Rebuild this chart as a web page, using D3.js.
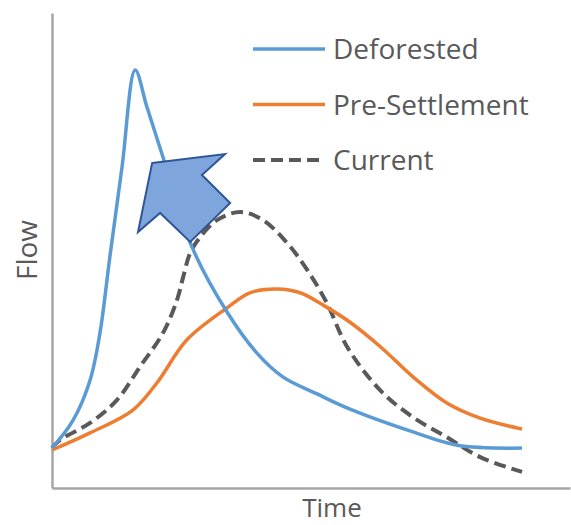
<!DOCTYPE html>
<html>
<head>
<meta charset="utf-8">
<script src="https://cdn.jsdelivr.net/npm/d3@7"></script>
<style>
  html, body { margin: 0; padding: 0; background: #ffffff; }
  svg { display: block; }
  text { font-family: "Open Sans", "Noto Sans", sans-serif; fill: #595959; }
</style>
</head>
<body>
<script>
// ---- data (time units 0..100, flow units 0..100) ----
const deforestedTime = [0, 4.5, 8.1, 10.2, 12.3, 14.9, 17.7, 20.2, 23.6, 29.8, 37.2, 43.6, 49.1, 56.4, 63.4, 76.8, 86.2, 100];
const deforestedFlow = [8.4, 14.3, 22.7, 32.6, 48.6, 67.6, 88, 80.2, 69.7, 50.7, 37.1, 28.4, 23.4, 19.8, 16.6, 11.8, 9.0, 8.4];

const preSettlementTime = [0, 8.1, 17.2, 22.3, 28.7, 37.2, 42.1, 47.9, 52.8, 57.7, 63.4, 69.8, 76.8, 84, 91.1, 100];
const preSettlementFlow = [8, 11.6, 16.4, 22.1, 31.2, 37.9, 41.1, 41.9, 41.1, 38.5, 34.9, 29.8, 23.4, 17.9, 14.7, 12.4];

const currentTime = [0, 1.7, 8.1, 13.8, 18.7, 23.6, 26.6, 27.9, 29.4, 31.5, 35.1, 40, 44.9, 50, 54.3, 58.5, 62.8, 69.8, 76.8, 84, 91.1, 100];
const currentFlow = [8.4, 10.1, 13.7, 18.5, 25.5, 32.6, 39.6, 44.4, 49.5, 52.8, 56.4, 58.1, 56.4, 51.6, 45.9, 38.9, 29.7, 20.6, 14.9, 10.7, 6.5, 3.4];

const seriesNames = ["Deforested", "Pre-Settlement", "Current"];
const seriesColors = ["#5B9BD5", "#ED7D31", "#595959"];
const seriesDash = [null, null, "12,6"];

// block arrow annotation (in data units)
const arrowTime = [21.3, 36.8, 31.9, 37.9, 29.4, 23.0, 18.3];
const arrowFlow = [68.4, 70.3, 65.9, 60.0, 51.8, 57.9, 53.9];

const axisTitleX = "Time";
const axisTitleY = "Flow";

// ---- layout ----
const W = 571, H = 525;
const svg = d3.select("body").append("svg").attr("width", W).attr("height", H);

const x = d3.scaleLinear().domain([0, 110.2]).range([52, 570]);
const y = d3.scaleLinear().domain([0, 100]).range([488, 13]);

// axes (no ticks)
const gx = svg.append("g").attr("transform", `translate(0,${y(0)})`)
  .call(d3.axisBottom(x).tickValues([]).tickSizeOuter(0));
const gy = svg.append("g").attr("transform", `translate(${x(0)},0)`)
  .call(d3.axisLeft(y).tickValues([]).tickSizeOuter(0));
[gx, gy].forEach(g => g.select(".domain").attr("stroke", "#A6A6A6").attr("stroke-width", 2.5));

// series
const series = [
  deforestedTime.map((t, i) => [t, deforestedFlow[i]]),
  preSettlementTime.map((t, i) => [t, preSettlementFlow[i]]),
  currentTime.map((t, i) => [t, currentFlow[i]])
];
const line = d3.line().x(d => x(d[0])).y(d => y(d[1])).curve(d3.curveCatmullRom.alpha(0.5));

// draw order: current (dashed), pre-settlement, deforested
[2, 1, 0].forEach(i => {
  svg.append("path")
    .attr("d", line(series[i]))
    .attr("fill", "none")
    .attr("stroke", seriesColors[i])
    .attr("stroke-width", i === 2 ? 4 : 3.5)
    .attr("stroke-linejoin", "round")
    .attr("stroke-dasharray", seriesDash[i]);
});

// arrow
const arrowPts = arrowTime.map((t, i) => [x(t), y(arrowFlow[i])]);
svg.append("path")
  .attr("d", d3.line()(arrowPts) + "Z")
  .attr("fill", "#7EA6DC")
  .attr("stroke", "#2F5597")
  .attr("stroke-width", 2)
  .attr("stroke-linejoin", "miter");

// legend
const legend = svg.append("g");
seriesNames.forEach((name, i) => {
  const ly = 49 + i * 55.5;
  legend.append("line")
    .attr("x1", 253).attr("x2", 325).attr("y1", ly).attr("y2", ly)
    .attr("stroke", seriesColors[i])
    .attr("stroke-width", i === 2 ? 4 : 3.5)
    .attr("stroke-dasharray", seriesDash[i]);
  legend.append("text")
    .attr("x", 333).attr("y", ly + 10)
    .attr("font-size", 28)
    .text(name);
});

// axis titles
svg.append("text")
  .attr("x", 332).attr("y", 517)
  .attr("text-anchor", "middle")
  .attr("font-size", 26)
  .text(axisTitleX);
svg.append("text")
  .attr("transform", `translate(37,250) rotate(-90)`)
  .attr("text-anchor", "middle")
  .attr("font-size", 28)
  .text(axisTitleY);
</script>
</body>
</html>
